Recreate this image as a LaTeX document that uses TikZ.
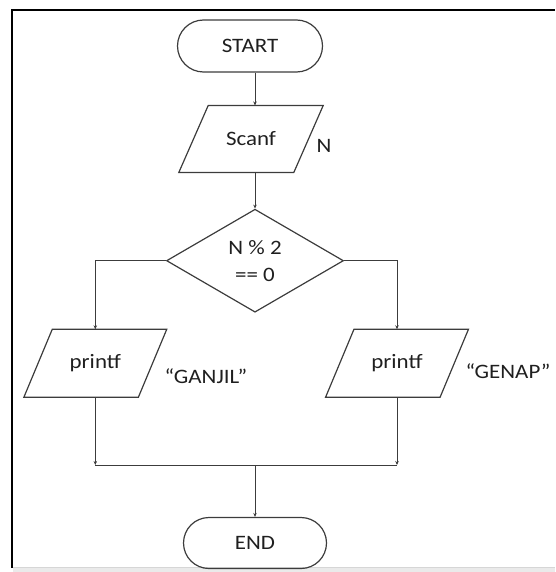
\documentclass[tikz,border=0pt]{standalone}
\usepackage{fontspec}
\setmainfont{Carlito}[FakeStretch=1.12]
\usetikzlibrary{shapes.geometric,shapes.misc,arrows.meta}
\definecolor{ink}{HTML}{3C3C3C}
\definecolor{band}{HTML}{EAEAEA}
\definecolor{bandedge}{HTML}{D6D6D6}

% draws the slanted outline of an input/output box around a body node
\newcommand\ioframe[2]{%
  \draw[shapeline] ([xshift=#2]#1.north west) -- ([xshift=#2]#1.north east)
    -- ([xshift=-#2]#1.south east) -- ([xshift=-#2]#1.south west) -- cycle;}

\begin{document}
\begin{tikzpicture}[x=1pt,y=-1pt,
  every node/.style={font=\fontsize{20.5}{27}\selectfont, text=black!88},
  shapeline/.style={draw=ink, line width=1.2pt, line join=miter},
  term/.style={rounded rectangle, shapeline, minimum width=145pt,
    minimum height=52pt, inner sep=0pt},
  iobody/.style={rectangle, minimum width=115pt, minimum height=67pt,
    inner sep=0pt, outer sep=0pt},
  decision/.style={diamond, shapeline, minimum width=177pt,
    minimum height=103pt, inner sep=0pt, align=center},
  note/.style={inner sep=0pt},
  link/.style={draw=ink, line width=1pt},
  arr/.style={link, -{Stealth[length=4pt,width=3.5pt]}}
]
\useasboundingbox (0,0) rectangle (555,572);

% page frame and bottom strip
\fill[band] (13,567.5) rectangle (555,572);
\draw[bandedge, line width=0.8pt] (13,567.8) -- (555,567.8);
\draw[black, line width=2pt] (12,567.5) -- (12,10) -- (555,10);

% nodes
\node[term] (start) at (250,46) {START};
\node[iobody] (scanf) at (251,139) {Scanf};
\ioframe{scanf}{14.7pt}
\node[note] (nlab) at (324,146) {N};

\node[decision] (dec) at (255,260.7) {N \% 2\\== 0};

\node[iobody, minimum height=68pt, minimum width=114.5pt] (pl) at (95.3,363.3) {printf};
\ioframe{pl}{14.2pt}
\node[note] (glab) at (206,376) {“GANJIL”};

\node[iobody, minimum height=68pt, minimum width=114.5pt] (pr) at (397,363.3) {printf};
\ioframe{pr}{14.2pt}
\node[note] (elab) at (508,371) {“GENAP”};

\node[term, minimum width=143pt, minimum height=51pt] (end) at (255,543) {END};

\coordinate (join) at (255,465);

% connectors
\draw[arr] (start.south -| dec.north) -- (scanf.north -| dec.north);
\draw[arr] (scanf.south -| dec.north) -- (dec.north);
\draw[arr] (dec.west) -| (pl.north);
\draw[arr] (dec.east) -| (pr.north);
\draw[arr] (pl.south) -- (pl.south |- join);
\draw[arr] (pr.south) -- (pr.south |- join);
\draw[link] (pl.south |- join) -- (pr.south |- join);
\draw[arr] (join) -- (end.north);
\end{tikzpicture}
\end{document}
